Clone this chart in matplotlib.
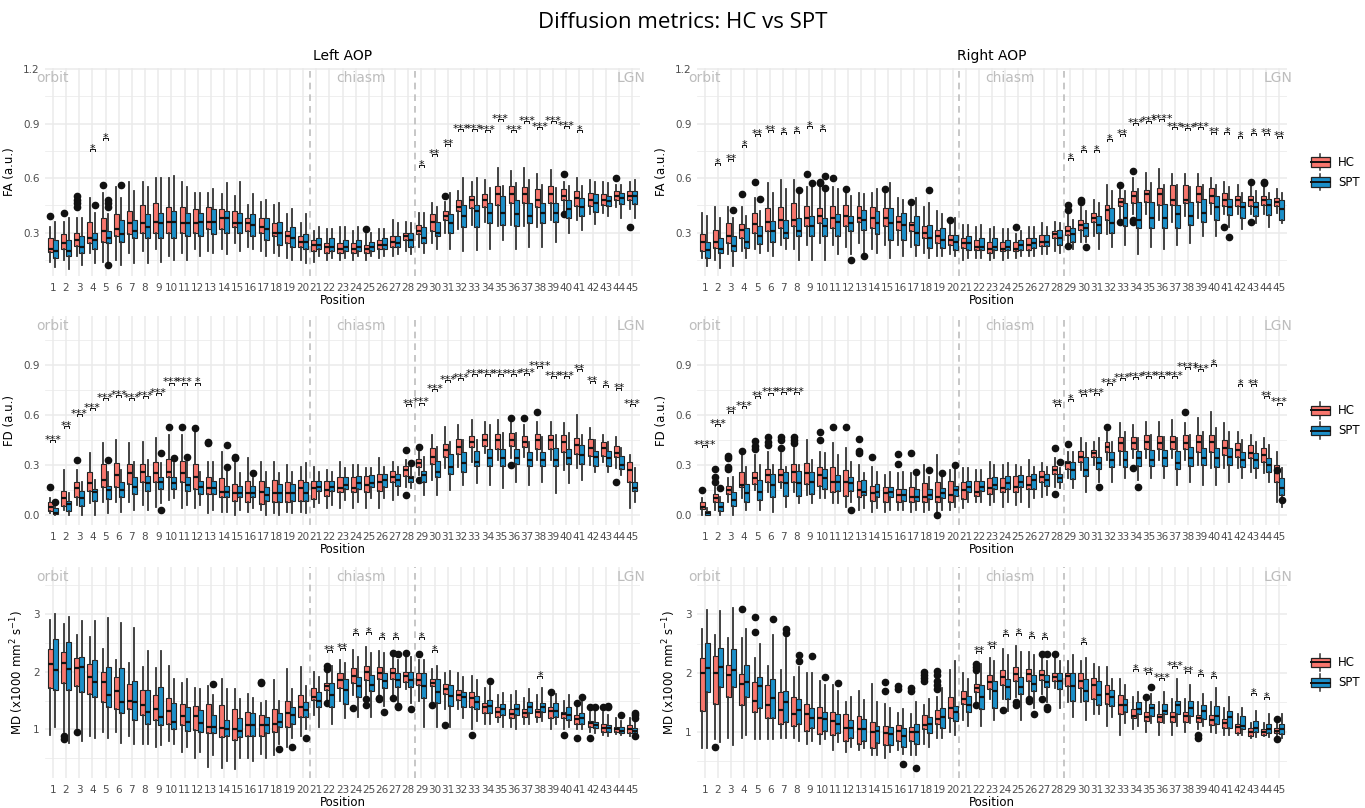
import matplotlib.pyplot as plt
from matplotlib.lines import Line2D
from matplotlib.patches import Rectangle, Patch
from matplotlib.legend_handler import HandlerBase

plt.rcParams['font.family'] = 'DejaVu Sans'

positions = list(range(1, 46))
group_names = ['HC', 'SPT']
group_colors = ['#F8766D', '#1B8FC9']
region_names = ['orbit', 'chiasm', 'LGN']
boundaries = [20.5, 28.5]

# one row per position: (median, q1, q3, whisker low, whisker high)
fa_left_hc = [
    (.21, .195, .27, .14, .33), (.24, .21, .29, .15, .36), (.26, .225, .30, .17, .38), (.27, .245, .36, .19, .49), (.31, .25, .38, .14, .52),
    (.32, .28, .40, .15, .55), (.35, .29, .42, .19, .58), (.35, .30, .45, .20, .58), (.36, .30, .46, .21, .60), (.36, .30, .44, .17, .60),
    (.35, .30, .44, .19, .58), (.35, .30, .43, .21, .52), (.36, .32, .44, .20, .52), (.38, .32, .43, .21, .51), (.35, .33, .42, .24, .50),
    (.35, .31, .38, .22, .45), (.33, .30, .38, .20, .47), (.30, .28, .35, .19, .45), (.28, .24, .31, .16, .40), (.25, .22, .28, .15, .35),
    (.23, .20, .26, .14, .31), (.22, .19, .24, .15, .32), (.21, .19, .24, .15, .33), (.21, .19, .24, .15, .31), (.21, .19, .23, .15, .29),
    (.23, .21, .26, .16, .32), (.25, .22, .28, .17, .37), (.28, .26, .30, .20, .36), (.31, .29, .34, .22, .41), (.36, .31, .40, .24, .46),
    (.39, .37, .42, .30, .47), (.44, .42, .48, .32, .53), (.48, .435, .50, .34, .58), (.48, .44, .51, .36, .59), (.51, .45, .555, .335, .655),
    (.51, .465, .555, .34, .64), (.51, .46, .55, .335, .655), (.48, .44, .54, .33, .62), (.51, .465, .555, .37, .645), (.50, .48, .54, .42, .58),
    (.49, .445, .53, .37, .60), (.48, .445, .52, .40, .59), (.48, .45, .51, .405, .58), (.50, .48, .53, .44, .56), (.50, .48, .53, .43, .58),
]
fa_left_spt = [
    (.20, .16, .26, .11, .36), (.20, .17, .26, .10, .38), (.22, .19, .28, .12, .38), (.26, .21, .30, .13, .41), (.27, .24, .31, .14, .40),
    (.29, .25, .37, .12, .49), (.31, .27, .37, .13, .53), (.33, .27, .40, .13, .55), (.35, .27, .41, .14, .60), (.36, .27, .42, .15, .61),
    (.35, .28, .41, .15, .55), (.36, .28, .41, .17, .52), (.36, .29, .43, .19, .54), (.38, .30, .42, .18, .57), (.35, .30, .41, .20, .58),
    (.34, .28, .40, .21, .51), (.32, .26, .38, .17, .48), (.30, .23, .36, .17, .46), (.27, .22, .33, .15, .43), (.25, .21, .29, .13, .40),
    (.23, .21, .27, .17, .33), (.22, .20, .27, .16, .32), (.22, .20, .26, .16, .33), (.22, .20, .26, .17, .33), (.22, .20, .25, .17, .30),
    (.23, .21, .27, .17, .32), (.24, .22, .28, .18, .35), (.26, .22, .30, .18, .35), (.27, .24, .33, .19, .41), (.30, .28, .36, .21, .44),
    (.35, .30, .40, .21, .52), (.39, .33, .45, .20, .60), (.42, .33, .45, .205, .60), (.41, .35, .46, .21, .545), (.41, .34, .50, .26, .555),
    (.40, .335, .48, .21, .57), (.39, .35, .46, .22, .59), (.41, .35, .46, .22, .56), (.41, .36, .46, .25, .545), (.43, .38, .48, .30, .555),
    (.44, .39, .49, .315, .555), (.46, .415, .51, .345, .58), (.475, .445, .50, .39, .57), (.49, .455, .52, .38, .56), (.50, .455, .53, .38, .59),
]
fa_left_hc_out = {1: [.39], 2: [.41], 3: [.44, .46, .48, .50], 5: [.56], 25: [.32], 31: [.50],
                  40: [.62, .40], 44: [.60], 45: [.33]}
fa_left_spt_out = {4: [.45], 5: [.12, .44, .46, .48], 6: [.56]}
fa_left_sig = {4: ('*', .79), 5: ('*', .85), 29: ('*', .70), 30: ('**', .76), 31: ('**', .815),
               32: ('***', .90), 33: ('***', .90), 34: ('***', .89), 35: ('***', .955), 36: ('***', .89),
               37: ('***', .94), 38: ('***', .91), 39: ('***', .94), 40: ('***', .915), 41: ('*', .89)}

fa_right_hc = [
    (.246, .196, .292, .16, .41), (.25, .215, .315, .15, .44), (.28, .24, .35, .18, .44), (.312, .27, .347, .20, .44), (.347, .30, .41, .21, .49),
    (.356, .306, .435, .20, .57), (.37, .325, .44, .23, .59), (.37, .334, .46, .21, .59), (.38, .334, .444, .23, .55), (.39, .35, .435, .24, .55),
    (.38, .325, .447, .23, .55), (.39, .334, .453, .22, .53), (.38, .36, .444, .24, .52), (.38, .325, .44, .21, .52), (.38, .334, .435, .23, .52),
    (.36, .315, .39, .23, .49), (.34, .306, .36, .22, .44), (.30, .27, .334, .19, .44), (.28, .242, .315, .17, .42), (.26, .233, .288, .18, .36),
    (.24, .215, .27, .15, .34), (.22, .205, .26, .16, .33), (.21, .187, .25, .15, .32), (.21, .196, .25, .15, .32), (.21, .196, .25, .16, .29),
    (.23, .205, .27, .17, .33), (.25, .224, .288, .18, .35), (.29, .27, .31, .20, .36), (.31, .288, .334, .22, .40), (.34, .315, .37, .25, .44),
    (.38, .356, .407, .28, .48), (.426, .37, .453, .29, .56), (.466, .444, .49, .38, .55), (.499, .462, .527, .40, .60), (.51, .47, .535, .40, .63),
    (.51, .453, .545, .37, .65), (.48, .453, .563, .36, .62), (.48, .462, .563, .39, .62), (.51, .466, .558, .38, .62), (.50, .462, .545, .40, .60),
    (.48, .447, .52, .40, .58), (.48, .444, .50, .40, .56), (.48, .444, .50, .40, .56), (.48, .453, .50, .40, .55), (.47, .444, .49, .41, .54),
]
fa_right_spt = [
    (.205, .16, .25, .114, .39), (.21, .19, .27, .105, .38), (.227, .20, .28, .114, .38), (.25, .215, .325, .16, .39), (.28, .238, .334, .19, .42),
    (.306, .25, .365, .17, .52), (.30, .27, .37, .21, .54), (.306, .28, .38, .15, .53), (.334, .28, .39, .15, .56), (.338, .28, .38, .15, .53),
    (.36, .28, .40, .18, .54), (.353, .306, .393, .18, .50), (.37, .315, .425, .19, .51), (.35, .29, .417, .19, .54), (.35, .26, .435, .16, .57),
    (.34, .26, .408, .17, .48), (.30, .233, .39, .17, .49), (.27, .215, .343, .16, .46), (.26, .215, .325, .17, .40), (.25, .205, .288, .17, .38),
    (.24, .205, .28, .16, .34), (.22, .205, .27, .16, .34), (.22, .205, .27, .16, .33), (.22, .205, .26, .16, .32), (.23, .205, .26, .17, .31),
    (.24, .215, .27, .17, .33), (.25, .224, .288, .18, .33), (.27, .233, .315, .19, .35), (.29, .25, .325, .21, .37), (.325, .28, .353, .25, .42),
    (.34, .30, .39, .21, .46), (.35, .30, .435, .22, .53), (.38, .334, .46, .23, .53), (.37, .325, .466, .18, .54), (.38, .325, .466, .22, .57),
    (.38, .325, .458, .21, .56), (.40, .325, .453, .23, .56), (.39, .343, .466, .24, .55), (.41, .36, .484, .28, .56), (.44, .37, .50, .28, .56),
    (.44, .398, .484, .33, .55), (.44, .38, .47, .32, .52), (.44, .39, .47, .35, .53), (.45, .398, .484, .33, .52), (.43, .37, .477, .35, .52),
]
fa_right_hc_out = {4: [.51], 5: [.58], 9: [.62], 10: [.57, .58], 11: [.60], 12: [.54], 15: [.54], 17: [.466],
                   20: [.37], 25: [.33], 29: [.425, .45, .228], 30: [.47, .48], 33: [.56, .36], 34: [.64, .36, .37],
                   41: [.33], 43: [.58, .36], 44: [.57, .58]}
fa_right_spt_out = {3: [.425], 5: [.484], 8: [.536], 9: [.57], 10: [.61, .545], 12: [.15], 13: [.17],
                    18: [.536], 30: [.22], 41: [.275]}
fa_right_sig = {2: ('*', .71), 3: ('**', .73), 4: ('*', .81), 5: ('**', .87), 6: ('**', .89), 7: ('*', .88),
                8: ('*', .885), 9: ('*', .915), 10: ('*', .90), 29: ('*', .74), 30: ('*', .78), 31: ('*', .78),
                32: ('*', .84), 33: ('**', .87), 34: ('***', .93), 35: ('***', .94), 36: ('****', .95),
                37: ('***', .91), 38: ('***', .905), 39: ('***', .91), 40: ('**', .88), 41: ('*', .88),
                42: ('*', .86), 43: ('*', .875), 44: ('**', .875), 45: ('**', .86)}

fd_left_hc = [
    (.05, .026, .076, .01, .10), (.10, .056, .146, .03, .27), (.16, .106, .196, .06, .27), (.19, .146, .256, .07, .37), (.21, .166, .306, .08, .43),
    (.24, .166, .31, .08, .45), (.25, .186, .306, .08, .43), (.26, .196, .306, .06, .44), (.25, .196, .316, .05, .46), (.26, .226, .336, .09, .48),
    (.25, .196, .326, .04, .48), (.23, .156, .306, .04, .50), (.16, .126, .226, .01, .32), (.14, .106, .22, .02, .38), (.13, .086, .186, .00, .31),
    (.13, .076, .206, .02, .34), (.14, .066, .206, .03, .32), (.13, .076, .21, .01, .32), (.13, .08, .20, .02, .30), (.16, .086, .21, .02, .29),
    (.16, .096, .206, .05, .29), (.15, .116, .206, .04, .27), (.16, .136, .226, .04, .32), (.16, .136, .226, .04, .30), (.18, .136, .236, .04, .28),
    (.20, .146, .246, .04, .34), (.23, .196, .266, .09, .32), (.27, .236, .296, .17, .33), (.31, .286, .336, .24, .38), (.35, .306, .40, .21, .48),
    (.39, .346, .426, .28, .53), (.41, .366, .456, .29, .54), (.44, .406, .476, .32, .57), (.45, .416, .486, .37, .56), (.45, .396, .486, .33, .57),
    (.45, .416, .49, .34, .56), (.44, .406, .476, .35, .54), (.45, .396, .486, .33, .56), (.45, .396, .48, .33, .56), (.44, .376, .48, .27, .55),
    (.42, .366, .46, .28, .60), (.40, .356, .456, .30, .52), (.40, .356, .44, .32, .48), (.37, .346, .412, .28, .47), (.27, .196, .316, .04, .36),
]
fd_left_spt = [
    (.015, .005, .045, .0, .06), (.065, .026, .086, .0, .13), (.10, .056, .146, .0, .20), (.14, .086, .156, .0, .21), (.15, .096, .176, .01, .26),
    (.15, .106, .196, .02, .27), (.17, .126, .226, .03, .32), (.19, .146, .236, .03, .33), (.20, .156, .226, .07, .31), (.19, .156, .226, .10, .31),
    (.18, .146, .226, .06, .32), (.17, .126, .206, .06, .26), (.16, .126, .206, .03, .32), (.14, .106, .176, .02, .27), (.13, .106, .176, .03, .25),
    (.13, .106, .176, .04, .22), (.12, .086, .166, .00, .26), (.13, .08, .186, .00, .25), (.13, .086, .186, .01, .26), (.13, .086, .196, .01, .31),
    (.17, .146, .206, .07, .26), (.17, .146, .206, .06, .26), (.18, .156, .226, .09, .28), (.19, .156, .236, .08, .30), (.19, .166, .24, .10, .28),
    (.21, .166, .246, .10, .29), (.21, .176, .246, .12, .29), (.22, .196, .236, .16, .28), (.24, .196, .266, .12, .35), (.26, .226, .326, .12, .41),
    (.29, .246, .366, .15, .44), (.31, .256, .376, .18, .45), (.32, .296, .386, .19, .45), (.34, .296, .396, .18, .54), (.34, .296, .396, .16, .49),
    (.34, .306, .396, .20, .49), (.33, .296, .376, .18, .44), (.33, .296, .376, .20, .47), (.33, .296, .40, .13, .48), (.34, .306, .396, .19, .49),
    (.36, .306, .42, .21, .48), (.35, .296, .386, .26, .45), (.34, .296, .386, .26, .44), (.30, .276, .356, .24, .40), (.16, .146, .196, .08, .28),
]
fd_left_hc_out = {1: [.17], 3: [.33], 10: [.53], 11: [.53], 12: [.52], 13: [.43, .44], 15: [.34, .35],
                  28: [.39, .12], 29: [.41, .21], 36: [.58, .30], 37: [.58], 38: [.62], 44: [.20]}
fd_left_spt_out = {1: [.08], 5: [.33], 9: [.37, .03], 10: [.34], 11: [.35], 14: [.42, .29], 16: [.25], 28: [.31]}
fd_left_sig = {1: ('***', .48), 2: ('**', .565), 3: ('***', .635), 4: ('***', .675), 5: ('***', .735),
               6: ('***', .75), 7: ('***', .73), 8: ('***', .745), 9: ('***', .76), 10: ('***', .825),
               11: ('***', .825), 12: ('*', .825), 28: ('**', .695), 29: ('***', .705), 30: ('***', .785),
               31: ('***', .84), 32: ('***', .855), 33: ('***', .875), 34: ('***', .875), 35: ('***', .875),
               36: ('***', .875), 37: ('***', .88), 38: ('****', .925), 39: ('***', .865), 40: ('***', .865),
               41: ('**', .905), 42: ('**', .835), 43: ('*', .81), 44: ('**', .795), 45: ('***', .695)}

fd_right_hc = [
    (.05, .036, .076, .0, .10), (.10, .08, .126, .03, .17), (.15, .126, .176, .08, .22), (.18, .166, .256, .10, .36), (.22, .186, .26, .15, .36),
    (.24, .196, .276, .14, .38), (.24, .20, .276, .16, .37), (.26, .20, .306, .14, .40), (.25, .186, .31, .12, .45), (.24, .176, .286, .10, .38),
    (.20, .14, .29, .07, .43), (.20, .116, .27, .05, .40), (.15, .106, .206, .03, .30), (.13, .086, .176, .02, .29), (.13, .076, .166, .02, .24),
    (.12, .076, .156, .03, .25), (.11, .08, .166, .02, .25), (.11, .08, .19, .02, .30), (.11, .076, .20, .01, .36), (.12, .076, .206, .03, .27),
    (.15, .096, .196, .04, .28), (.14, .116, .206, .08, .27), (.16, .126, .22, .06, .32), (.16, .136, .22, .05, .30), (.17, .136, .236, .06, .30),
    (.18, .156, .236, .05, .33), (.23, .196, .266, .11, .31), (.27, .246, .296, .17, .34), (.31, .276, .326, .22, .38), (.35, .316, .386, .27, .46),
    (.37, .346, .392, .30, .44), (.41, .376, .44, .33, .50), (.43, .386, .466, .30, .55), (.43, .396, .466, .34, .54), (.44, .396, .48, .34, .56),
    (.43, .396, .476, .33, .56), (.44, .396, .476, .34, .57), (.43, .396, .48, .33, .55), (.44, .38, .48, .30, .58), (.44, .38, .48, .28, .62),
    (.40, .36, .45, .28, .55), (.39, .35, .43, .28, .50), (.37, .34, .42, .26, .48), (.36, .32, .40, .25, .46), (.25, .20, .30, .08, .38),
]
fd_right_spt = [
    (.01, .0, .026, .0, .04), (.05, .026, .08, .0, .11), (.09, .056, .136, .0, .23), (.13, .08, .186, .03, .29), (.14, .092, .212, .03, .30),
    (.18, .106, .246, .02, .30), (.19, .116, .256, .05, .29), (.19, .116, .266, .07, .30), (.20, .126, .26, .07, .33), (.22, .156, .276, .10, .37),
    (.20, .146, .24, .07, .36), (.19, .146, .226, .08, .32), (.14, .122, .212, .04, .25), (.14, .106, .186, .04, .26), (.14, .106, .166, .03, .26),
    (.12, .086, .156, .03, .26), (.11, .086, .156, .03, .23), (.12, .096, .156, .03, .23), (.13, .10, .16, .03, .23), (.15, .116, .176, .05, .28),
    (.17, .136, .206, .08, .28), (.17, .146, .206, .08, .27), (.18, .156, .226, .08, .30), (.19, .156, .236, .08, .31), (.20, .166, .24, .08, .29),
    (.21, .156, .246, .10, .29), (.21, .176, .246, .12, .29), (.22, .196, .246, .16, .28), (.27, .216, .316, .16, .38), (.27, .236, .346, .14, .43),
    (.31, .276, .346, .20, .46), (.33, .286, .376, .20, .44), (.33, .286, .386, .22, .50), (.34, .296, .386, .21, .46), (.33, .296, .392, .22, .48),
    (.34, .296, .392, .22, .47), (.31, .276, .386, .18, .46), (.34, .296, .406, .20, .48), (.34, .30, .40, .18, .50), (.34, .29, .40, .18, .52),
    (.35, .30, .40, .20, .50), (.33, .29, .38, .22, .45), (.33, .28, .37, .22, .44), (.30, .26, .34, .20, .42), (.16, .12, .22, .05, .28),
]
fd_right_hc_out = {1: [.15], 2: [.196, .226, .276], 3: [.276, .286, .34, .356], 4: [.386], 5: [.396, .416, .446],
                   6: [.42, .44, .47], 7: [.40, .45, .47], 8: [.43, .45, .47], 10: [.45, .50], 11: [.526], 12: [.526],
                   13: [.372, .386, .456], 14: [.35], 16: [.306, .366], 17: [.37], 19: [0.0], 28: [.40, .126],
                   29: [.426], 32: [.526], 34: [.28], 38: [.616], 45: [.27]}
fd_right_spt_out = {2: [.16], 12: [.03], 17: [.26], 18: [.27], 19: [.25], 20: [.30], 28: [.316], 31: [.17],
                    34: [.166], 45: [.09]}
fd_right_sig = {1: ('****', .45), 2: ('***', .575), 3: ('**', .655), 4: ('***', .685), 5: ('**', .745),
                6: ('***', .765), 7: ('***', .77), 8: ('***', .77), 28: ('**', .695), 29: ('*', .725),
                30: ('**', .755), 31: ('***', .76), 32: ('***', .82), 33: ('***', .85), 34: ('***', .86),
                35: ('***', .865), 36: ('***', .865), 37: ('***', .865), 38: ('****', .92), 39: ('***', .905),
                40: ('*', .935), 42: ('*', .815), 43: ('**', .815), 44: ('**', .745), 45: ('***', .705)}

md_left_hc = [
    (2.13, 1.72, 2.39, .90, 2.90), (2.15, 1.80, 2.35, .95, 2.83), (2.06, 1.75, 2.23, 1.03, 2.63), (1.90, 1.62, 2.13, .88, 2.60), (1.82, 1.48, 2.00, .95, 2.40),
    (1.66, 1.36, 1.91, .96, 2.20), (1.50, 1.35, 1.79, .89, 2.15), (1.42, 1.25, 1.68, .74, 2.08), (1.35, 1.16, 1.60, .70, 2.06), (1.32, 1.10, 1.54, .80, 2.10),
    (1.23, 1.07, 1.44, .60, 1.80), (1.24, .99, 1.40, .50, 1.72), (1.05, .93, 1.44, .35, 1.75), (1.02, .87, 1.42, .33, 1.87), (1.01, .82, 1.36, .32, 1.70),
    (1.07, .88, 1.30, .50, 1.62), (1.08, .88, 1.25, .58, 1.45), (1.10, .96, 1.36, .55, 1.85), (1.28, 1.05, 1.50, .70, 2.05), (1.38, 1.22, 1.60, .88, 2.08),
    (1.57, 1.51, 1.71, 1.25, 2.00), (1.75, 1.68, 1.81, 1.50, 1.98), (1.85, 1.72, 1.98, 1.50, 2.20), (1.93, 1.81, 2.06, 1.60, 2.38), (1.99, 1.86, 2.10, 1.60, 2.43),
    (1.98, 1.88, 2.09, 1.60, 2.36), (1.97, 1.88, 2.06, 1.60, 2.30), (1.92, 1.83, 2.00, 1.70, 2.28), (1.86, 1.77, 1.98, 1.50, 2.20), (1.80, 1.75, 1.88, 1.50, 2.05),
    (1.70, 1.62, 1.79, 1.35, 1.98), (1.60, 1.51, 1.68, 1.35, 1.98), (1.55, 1.39, 1.65, 1.00, 1.93), (1.38, 1.28, 1.45, 1.10, 1.72), (1.30, 1.22, 1.39, 1.12, 1.60),
    (1.27, 1.19, 1.36, 1.05, 1.60), (1.29, 1.22, 1.36, 1.10, 1.55), (1.31, 1.22, 1.36, 1.13, 1.60), (1.32, 1.19, 1.39, 1.00, 1.60), (1.26, 1.19, 1.31, 1.00, 1.50),
    (1.18, 1.10, 1.25, 1.00, 1.40), (1.11, 1.05, 1.15, .95, 1.30), (1.03, .96, 1.10, .90, 1.30), (1.00, .96, 1.05, .92, 1.20), (1.00, .93, 1.08, .88, 1.20),
]
md_left_spt = [
    (2.03, 1.68, 2.56, 1.05, 3.00), (2.05, 1.68, 2.52, .77, 2.95), (2.08, 1.65, 2.26, .80, 2.88), (1.83, 1.56, 2.20, .85, 2.88), (1.60, 1.39, 2.09, .85, 2.93),
    (1.47, 1.28, 2.06, .76, 2.85), (1.47, 1.17, 1.84, .75, 2.75), (1.30, 1.09, 1.69, .75, 2.36), (1.22, 1.07, 1.73, .73, 2.36), (1.13, 1.00, 1.46, .74, 1.88),
    (1.13, .98, 1.39, .70, 1.88), (1.11, .96, 1.34, .60, 1.70), (1.05, .93, 1.25, .55, 1.60), (1.00, .88, 1.17, .46, 1.70), (.98, .87, 1.19, .50, 1.53),
    (1.07, .88, 1.28, .45, 1.55), (1.08, .93, 1.22, .50, 1.50), (1.12, 1.05, 1.28, .75, 1.50), (1.25, 1.10, 1.39, .85, 1.70), (1.33, 1.22, 1.48, 1.00, 1.75),
    (1.50, 1.39, 1.65, 1.05, 1.90), (1.60, 1.39, 1.80, 1.10, 2.10), (1.68, 1.44, 1.88, 1.20, 2.15), (1.76, 1.57, 1.91, 1.22, 2.25), (1.77, 1.66, 1.94, 1.22, 2.32),
    (1.84, 1.71, 1.97, 1.40, 2.33), (1.86, 1.74, 1.97, 1.45, 2.20), (1.85, 1.74, 2.00, 1.45, 2.25), (1.76, 1.54, 1.97, 1.04, 2.20), (1.65, 1.46, 1.88, 1.05, 2.10),
    (1.58, 1.40, 1.77, 1.05, 2.02), (1.57, 1.39, 1.65, 1.20, 1.90), (1.47, 1.35, 1.58, 1.15, 1.85), (1.40, 1.28, 1.51, 1.10, 1.75), (1.36, 1.25, 1.44, 1.05, 1.63),
    (1.36, 1.25, 1.44, 1.00, 1.66), (1.38, 1.28, 1.48, 1.10, 1.70), (1.39, 1.31, 1.46, 1.15, 1.72), (1.32, 1.22, 1.45, 1.10, 1.62), (1.25, 1.16, 1.39, 1.05, 1.60),
    (1.20, 1.10, 1.28, 1.00, 1.50), (1.08, 1.02, 1.13, .93, 1.35), (1.02, .96, 1.08, .88, 1.25), (.98, .93, 1.05, .90, 1.15), (.97, .93, 1.02, .85, 1.15),
]
md_left_hc_out = {2: [.83, .88], 3: [.95], 17: [1.80, 1.83], 22: [2.05, 2.10, 1.45], 24: [1.37], 25: [1.43, 1.52],
                  26: [1.52, 1.55], 27: [2.33, 1.55], 28: [2.33], 29: [2.30], 30: [1.42], 31: [1.08], 33: [.90],
                  39: [1.65], 40: [.90], 41: [1.45, .85], 42: [1.38, .85], 43: [1.38]}
md_left_spt_out = {13: [1.79], 18: [.66], 19: [.70], 20: [.85], 26: [1.30], 27: [2.30, 1.38, 1.40], 28: [1.36],
                   34: [1.84], 41: [1.57], 42: [1.38], 43: [1.38, 1.40], 44: [1.25], 45: [1.20, 1.25, 1.28, .88]}
md_left_sig = {22: ('**', 2.46), 23: ('**', 2.49), 24: ('*', 2.75), 25: ('*', 2.78), 26: ('*', 2.69),
               27: ('*', 2.69), 29: ('*', 2.68), 30: ('*', 2.46), 38: ('*', 2.01)}

md_right_hc = [
    (2.00, 1.36, 2.26, .72, 2.75), (2.00, 1.47, 2.29, .87, 2.65), (1.96, 1.59, 2.13, .90, 2.60), (1.82, 1.46, 1.99, .90, 2.60), (1.53, 1.34, 1.84, .88, 2.25),
    (1.45, 1.24, 1.80, .88, 2.12), (1.37, 1.13, 1.67, .90, 2.05), (1.30, 1.10, 1.59, .90, 1.93), (1.30, 1.01, 1.48, .80, 2.00), (1.24, .97, 1.42, .80, 1.87),
    (1.18, .95, 1.33, .70, 1.80), (1.07, .84, 1.30, .65, 1.50), (1.05, .79, 1.27, .70, 1.70), (1.00, .73, 1.17, .60, 1.82), (.98, .78, 1.10, .55, 1.47),
    (1.02, .84, 1.11, .70, 1.32), (.99, .84, 1.08, .60, 1.30), (1.11, 1.04, 1.29, .80, 1.45), (1.21, 1.14, 1.37, .90, 1.60), (1.40, 1.24, 1.60, 1.00, 2.05),
    (1.55, 1.47, 1.69, 1.20, 2.00), (1.75, 1.67, 1.82, 1.50, 2.00), (1.85, 1.73, 1.96, 1.55, 2.25), (1.93, 1.80, 2.05, 1.55, 2.40), (1.98, 1.86, 2.10, 1.60, 2.45),
    (1.98, 1.87, 2.07, 1.60, 2.35), (1.97, 1.88, 2.05, 1.65, 2.30), (1.94, 1.86, 2.00, 1.75, 2.25), (1.95, 1.78, 2.00, 1.50, 2.20), (1.87, 1.75, 2.00, 1.50, 2.20),
    (1.80, 1.56, 1.92, 1.30, 2.15), (1.65, 1.47, 1.80, 1.10, 2.10), (1.45, 1.30, 1.63, .95, 1.90), (1.27, 1.24, 1.39, 1.05, 1.60), (1.26, 1.18, 1.33, 1.00, 1.55),
    (1.25, 1.16, 1.31, .95, 1.50), (1.26, 1.16, 1.33, .95, 1.55), (1.27, 1.16, 1.34, 1.00, 1.55), (1.23, 1.16, 1.29, 1.05, 1.50), (1.20, 1.11, 1.29, 1.00, 1.50),
    (1.15, 1.07, 1.21, .95, 1.40), (1.08, .98, 1.14, .95, 1.30), (1.00, .93, 1.07, .90, 1.15), (1.00, .95, 1.04, .93, 1.15), (1.02, .98, 1.06, .92, 1.15),
]
md_right_spt = [
    (2.08, 1.67, 2.51, .72, 3.07), (2.10, 1.76, 2.42, .83, 3.05), (2.05, 1.76, 2.40, .78, 3.10), (1.84, 1.59, 2.13, .95, 2.75), (1.78, 1.41, 1.94, .88, 2.50),
    (1.58, 1.24, 1.90, .88, 2.65), (1.50, 1.16, 1.69, .90, 2.60), (1.37, 1.13, 1.56, .85, 2.10), (1.24, 1.07, 1.41, .85, 2.00), (1.22, 1.02, 1.33, .88, 1.80),
    (1.14, .98, 1.30, .83, 1.70), (1.07, .90, 1.20, .75, 1.60), (1.04, .84, 1.21, .72, 1.54), (1.02, .81, 1.10, .60, 1.50), (.96, .78, 1.08, .65, 1.40),
    (.93, .75, 1.07, .62, 1.38), (1.00, .79, 1.13, .60, 1.50), (1.13, .98, 1.25, .75, 1.55), (1.25, 1.07, 1.41, .90, 1.75), (1.33, 1.18, 1.44, .95, 2.20),
    (1.45, 1.33, 1.61, 1.10, 1.90), (1.60, 1.39, 1.79, 1.10, 2.15), (1.70, 1.41, 1.86, 1.20, 2.20), (1.77, 1.56, 1.90, 1.35, 2.30), (1.76, 1.64, 1.94, 1.20, 2.35),
    (1.82, 1.69, 1.96, 1.40, 2.30), (1.85, 1.76, 1.96, 1.50, 2.20), (1.86, 1.73, 2.00, 1.40, 2.20), (1.78, 1.53, 2.00, 1.25, 2.30), (1.70, 1.53, 1.89, 1.20, 2.25),
    (1.62, 1.46, 1.86, 1.30, 2.10), (1.60, 1.44, 1.71, 1.25, 1.90), (1.45, 1.33, 1.56, 1.15, 1.80), (1.38, 1.30, 1.50, 1.10, 1.67), (1.40, 1.27, 1.47, 1.15, 1.65),
    (1.36, 1.30, 1.48, 1.15, 1.68), (1.45, 1.31, 1.53, 1.10, 1.90), (1.40, 1.27, 1.53, 1.15, 1.80), (1.36, 1.21, 1.46, 1.10, 1.65), (1.27, 1.13, 1.44, .98, 1.75),
    (1.25, 1.07, 1.36, .95, 1.60), (1.10, 1.04, 1.27, .95, 1.40), (1.06, 1.00, 1.18, .92, 1.35), (1.05, .98, 1.14, .92, 1.30), (1.04, .97, 1.13, .90, 1.30),
]
md_right_hc_out = {2: [.74], 4: [3.09], 5: [2.95, 2.70], 15: [1.70, 1.85], 16: [1.72, 1.78], 17: [1.70, 1.75],
                   18: [1.87, 1.92, 1.97, 2.02], 19: [1.73, 1.80, 1.86, 1.97, 2.04], 22: [2.05, 2.10, 2.15, 1.45],
                   24: [1.37], 25: [1.45, 1.50], 26: [1.53, 1.56], 27: [2.33, 1.55], 28: [2.33], 35: [1.59],
                   39: [.90, .95], 45: [1.22, .87]}
md_right_spt_out = {6: [2.92], 7: [2.68, 2.75], 8: [2.20, 2.30], 9: [2.28], 10: [1.93], 11: [1.83], 16: [.45],
                    17: [.38], 26: [1.30], 27: [2.32, 1.38, 1.42], 35: [1.76]}
md_right_sig = {22: ('**', 2.46), 23: ('**', 2.55), 24: ('*', 2.74), 25: ('*', 2.76), 26: ('*', 2.71),
                27: ('*', 2.69), 30: ('*', 2.61), 34: ('*', 2.16), 35: ('**', 2.10), 36: ('***', 2.00),
                37: ('***', 2.21), 38: ('**', 2.12), 39: ('*', 2.06), 40: ('*', 2.03), 43: ('*', 1.75),
                44: ('*', 1.67)}

W, H = 1365, 808
fig = plt.figure(figsize=(W / 100, H / 100), dpi=100)

cols = [(45, 640), (697, 1287)]
rows = [(68, 276), (316, 525), (567, 778)]

grid_col = '#EBEBEB'
txt_col = '#4D4D4D'
reg_col = '#BDBDBD'


class BoxKey(HandlerBase):
    def create_artists(self, legend, orig_handle, xdescent, ydescent, width, height, fontsize, trans):
        x0, y0 = -xdescent, -ydescent
        c = orig_handle.get_facecolor()
        box = Rectangle((x0, y0 + 0.22 * height), width, 0.56 * height, facecolor=c,
                        edgecolor='#222222', lw=0.9, transform=trans)
        med = Line2D([x0, x0 + width], [y0 + 0.5 * height] * 2, color='#111111', lw=1.4, transform=trans)
        w1 = Line2D([x0 + width / 2] * 2, [y0 + 0.78 * height, y0 + height], color='#333333', lw=1.1, transform=trans)
        w2 = Line2D([x0 + width / 2] * 2, [y0, y0 + 0.22 * height], color='#333333', lw=1.1, transform=trans)
        return [w1, w2, box, med]


def draw_panel(col, row, hc, spt, hc_out, spt_out, sig, ylim, yticks, ylabels, yminor, ylabel, title=None):
    x0, x1 = cols[col]
    y0, y1 = rows[row]
    ax = fig.add_axes([x0 / W, 1 - y1 / H, (x1 - x0) / W, (y1 - y0) / H])
    ax.set_xlim(0.4, 45.6)
    ax.set_ylim(*ylim)
    for s in ax.spines.values():
        s.set_visible(False)

    for y in yticks:
        ax.axhline(y, color=grid_col, lw=1.1, zorder=0)
    for y in yminor:
        ax.axhline(y, color=grid_col, lw=0.55, zorder=0)
    for p in positions:
        ax.axvline(p, color=grid_col, lw=1.1, zorder=0)
    for b in boundaries:
        ax.axvline(b, color='#BDBDBD', lw=1.2, ls=(0, (4, 3)), zorder=0.5)

    for data, outs, off, color in [(hc, hc_out, -0.19, group_colors[0]), (spt, spt_out, 0.19, group_colors[1])]:
        stats = []
        for p, r in zip(positions, data):
            stats.append(dict(med=r[0], q1=r[1], q3=r[2], whislo=r[3], whishi=r[4], fliers=outs.get(p, [])))
        ax.bxp(stats, positions=[p + off for p in positions], widths=0.38, patch_artist=True,
               showcaps=False, manage_ticks=False,
               boxprops=dict(facecolor=color, edgecolor='#222222', linewidth=0.8),
               whiskerprops=dict(color='#333333', linewidth=1.3),
               medianprops=dict(color='#111111', linewidth=1.6),
               flierprops=dict(marker='o', markerfacecolor='#111111', markeredgecolor='#111111',
                               markersize=4.5, linestyle='none'))

    # significance marks: small bracket with stars
    ppd = (y1 - y0) / (ylim[1] - ylim[0])
    dy = 1.0 / ppd
    for p, (lab, y) in sig.items():
        yb = y - 5 * dy
        ax.plot([p - 0.19, p - 0.19, p + 0.19, p + 0.19], [yb - 2 * dy, yb, yb, yb - 2 * dy],
                color='#111111', lw=0.7, zorder=4)
        ax.text(p, yb - 3 * dy, lab, ha='center', va='baseline', fontsize=8, color='#111111', zorder=4)

    # region labels
    ax.text(-0.014, 0.952, region_names[0], transform=ax.transAxes, ha='left', va='center',
            fontsize=10, color=reg_col)
    ax.text(24.4, 0.952, region_names[1], transform=ax.get_xaxis_transform(), ha='center', va='center',
            fontsize=10, color=reg_col)
    ax.text(1.01, 0.952, region_names[2], transform=ax.transAxes, ha='right', va='center',
            fontsize=10, color=reg_col)

    ax.set_xticks(positions)
    ax.set_xticklabels([str(p) for p in positions])
    ax.set_yticks(yticks)
    ax.set_yticklabels(ylabels)
    ax.tick_params(axis='both', length=0, labelsize=7.5, labelcolor=txt_col)
    ax.tick_params(axis='x', pad=5)
    ax.tick_params(axis='y', pad=4)
    ax.set_xlabel('Position', fontsize=8.5, labelpad=1)
    ax.set_ylabel(ylabel, fontsize=8.5, labelpad=5)
    if title:
        ax.set_title(title, fontsize=10, pad=6)
    return ax


fa_ticks = [0.3, 0.6, 0.9, 1.2]
fd_ticks = [0.0, 0.3, 0.6, 0.9]
md_ticks = [1, 2, 3]

draw_panel(0, 0, fa_left_hc, fa_left_spt, fa_left_hc_out, fa_left_spt_out, fa_left_sig,
           (0.061, 1.2055), fa_ticks, ['0.3', '0.6', '0.9', '1.2'], [0.15, 0.45, 0.75, 1.05],
           'FA (a.u.)', 'Left AOP')
draw_panel(1, 0, fa_right_hc, fa_right_spt, fa_right_hc_out, fa_right_spt_out, fa_right_sig,
           (0.061, 1.2055), fa_ticks, ['0.3', '0.6', '0.9', '1.2'], [0.15, 0.45, 0.75, 1.05],
           'FA (a.u.)', 'Right AOP')
draw_panel(0, 1, fd_left_hc, fd_left_spt, fd_left_hc_out, fd_left_spt_out, fd_left_sig,
           (-0.06, 1.194), fd_ticks, ['0.0', '0.3', '0.6', '0.9'], [0.15, 0.45, 0.75, 1.05],
           'FD (a.u.)')
draw_panel(1, 1, fd_right_hc, fd_right_spt, fd_right_hc_out, fd_right_spt_out, fd_right_sig,
           (-0.06, 1.194), fd_ticks, ['0.0', '0.3', '0.6', '0.9'], [0.15, 0.45, 0.75, 1.05],
           'FD (a.u.)')
md_label = r'MD (x1000 mm$^2$ s$^{-1}$)'
draw_panel(0, 2, md_left_hc, md_left_spt, md_left_hc_out, md_left_spt_out, md_left_sig,
           (0.158, 3.815), md_ticks, ['1', '2', '3'], [0.5, 1.5, 2.5, 3.5], md_label)
draw_panel(1, 2, md_right_hc, md_right_spt, md_right_hc_out, md_right_spt_out, md_right_sig,
           (0.216, 3.80), md_ticks, ['1', '2', '3'], [0.5, 1.5, 2.5, 3.5], md_label)

# legends, one per row
handles = [Patch(facecolor=c) for c in group_colors]
for (ya, yb) in rows:
    yc = (ya + yb) / 2
    fig.legend(handles, group_names, handler_map={Patch: BoxKey()}, loc='center left',
               bbox_to_anchor=(1300 / W, 1 - yc / H), frameon=False, fontsize=8.5,
               handlelength=1.6, handleheight=1.8, labelspacing=0.3, handletextpad=0.7)

fig.text(0.5, 1 - 22 / H, 'Diffusion metrics: HC vs SPT', ha='center', va='center', fontsize=16,
         family='Open Sans')

fig.savefig('out.png', dpi=100)
